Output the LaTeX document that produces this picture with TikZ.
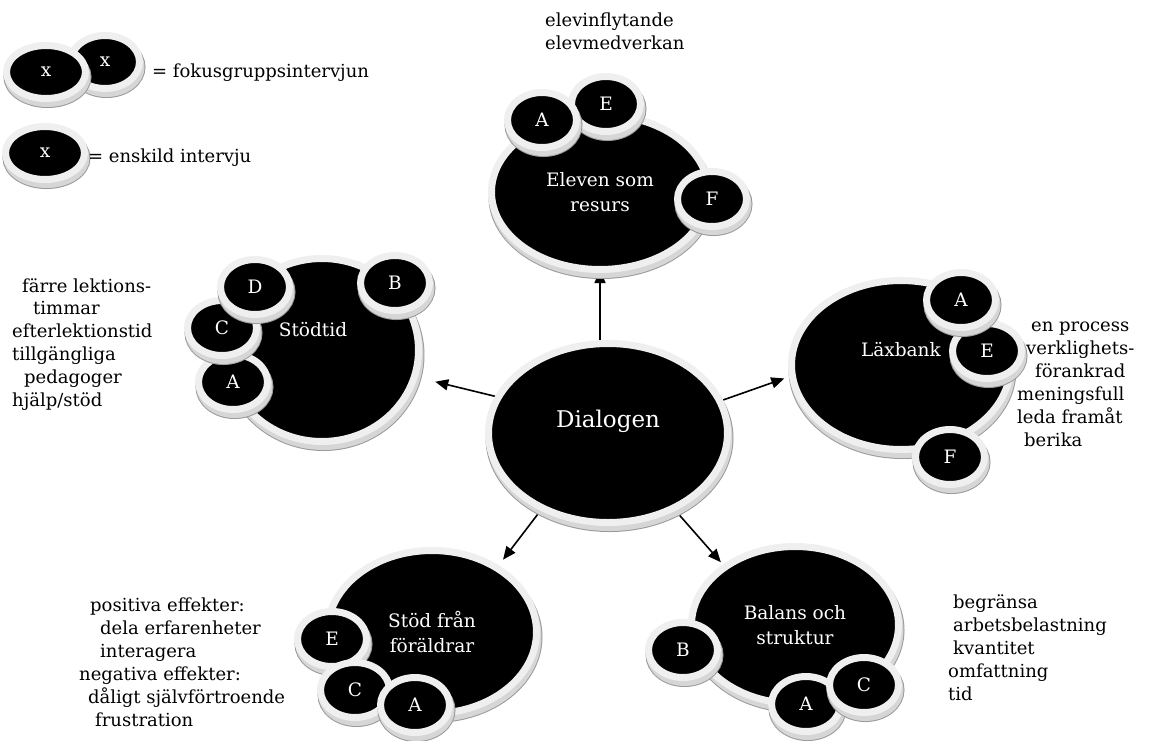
\documentclass[tikz,border=0pt]{standalone}
\usepackage{fontspec}
\setmainfont{DejaVu Serif}
\usetikzlibrary{shapes.geometric,arrows.meta,backgrounds}
\definecolor{rimcol}{HTML}{EFEFEF}
\definecolor{sidecol}{HTML}{D6D6D6}
\definecolor{sideline}{HTML}{9A9A9A}
\begin{document}
\begin{tikzpicture}[x=1pt,y=-1pt,
  disc/.style={ellipse, inner sep=0pt, fill=black, draw=rimcol, line width=7pt, text=white,
    font=\fontsize{18.5}{25}\selectfont, align=center,
    preaction={draw=sideline, line width=9pt, transform canvas={xshift=1.5pt,yshift=-5pt}},
    preaction={draw=sidecol, line width=7pt, transform canvas={xshift=1.5pt,yshift=-5pt}}},
  small/.style={disc, minimum width=69pt, minimum height=55pt},
  legdisc/.style={disc, minimum width=79pt, minimum height=53pt},
  side/.style={font=\fontsize{18}{23}\selectfont, align=left, anchor=north west, inner sep=0pt},
  legtxt/.style={font=\fontsize{18}{23}\selectfont, anchor=base west, inner sep=0pt},
  arr/.style={line width=1.6pt, -{Triangle[length=13pt,width=11pt]}}
]
\useasboundingbox (0,0) rectangle (1168,740);
\begin{scope}[on background layer]
  \fill[white] (0,0) rectangle (1168,740);
\end{scope}

% legend
\node[small, minimum height=53pt] (lgb) at (105,62) {x};
\node[legdisc] (lgf) at (46,72) {x};
\node[legtxt] (lgt1) at (152,77) {= fokusgruppsintervjun};
\node[legdisc] (lgs) at (45,153) {x};
\node[legtxt] (lgt2) at (88,162) {= enskild intervju};

% Dialogen
\node[disc, minimum width=239pt, minimum height=179pt,
  label={[white, font=\fontsize{23}{25}\selectfont, yshift=12pt]center:Dialogen}] (dia) at (608,433) {};

% Eleven som resurs
\node[disc, minimum width=217pt, minimum height=155pt] (ele) at (600,192) {Eleven som\\resurs};
\node[small] (eleE) at (606,104) {E};
\node[small] (eleA) at (542,120) {A};
\node[small] (eleF) at (712,199) {F};
\node[side] (eletxt) at (545,13) {elevinflytande\\elevmedverkan};

% Stodtid
\node[disc, minimum width=193pt, minimum height=183pt,
  label={[white, font=\fontsize{18.5}{25}\selectfont, yshift=20pt, xshift=-9pt]center:Stödtid}] (sto) at (322,350) {};
\node[small] (stoB) at (395,283) {B};
\node[small] (stoA) at (233,382) {A};
\node[small] (stoC) at (222,328) {C};
\node[small] (stoD) at (255,287) {D};
\node[side] (stotxt) at (12,278) {\hspace*{10pt}färre lektions-\\\hspace*{21pt}timmar\\efterlektionstid\\tillgängliga\\\hspace*{12pt}pedagoger\\hjälp/stöd};

% Laxbank
\node[disc, minimum width=219pt, minimum height=169pt,
  label={[white, font=\fontsize{18.5}{25}\selectfont, yshift=15pt]center:Läxbank}] (lax) at (901,365) {};
\node[small] (laxE) at (987,351) {E};
\node[small] (laxA) at (961,300) {A};
\node[small] (laxF) at (950,457) {F};
\node[side] (laxtxt) at (1017,322) {\hspace*{14pt}en process\\\hspace*{9pt}verklighets-\\\hspace*{18pt}förankrad\\meningsfull\\leda framåt\\\hspace*{7pt}berika};

% Stod fran foraldrar
\node[disc, minimum width=209pt, minimum height=163pt] (sfr) at (432,632) {Stöd från\\föräldrar};
\node[small] (sfrE) at (332,639) {E};
\node[small] (sfrC) at (355,690) {C};
\node[small] (sfrA) at (415,705) {A};
\node[side] (sfrtxt) at (79,598) {\hspace*{11pt}positiva effekter:\\\hspace*{21pt}dela erfarenheter\\\hspace*{21pt}interagera\\negativa effekter:\\\hspace*{9pt}dåligt självförtroende\\\hspace*{16pt}frustration};

% Balans och struktur
\node[disc, minimum width=207pt, minimum height=157pt] (bal) at (795,625) {Balans och\\struktur};
\node[small] (balB) at (683,650) {B};
\node[small] (balA) at (806,704) {A};
\node[small] (balC) at (864,685) {C};
\node[side] (baltxt) at (948,594) {\hspace*{5pt}begränsa\\\hspace*{5pt}arbetsbelastning\\\hspace*{5pt}kvantitet\\omfattning\\tid};

% arrows
\begin{scope}[on background layer]
  \draw[arr, shorten >=-3pt] (ele.south |- dia.north) -- (ele.south);
  \draw[arr, shorten >=18pt] (dia.162) -- (sto.-16);
  \draw[arr, shorten >=5pt] (dia.16) -- (lax.186);
  \draw[arr, shorten >=7pt] (dia.229) -- (sfr.45);
  \draw[arr, shorten >=3pt] (dia.-49) -- (bal.140);
\end{scope}
\end{tikzpicture}
\end{document}
